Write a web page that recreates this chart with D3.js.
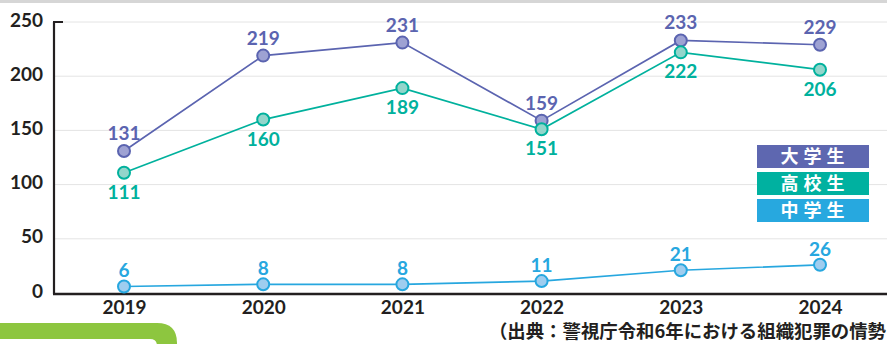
<!DOCTYPE html>
<html>
<head>
<meta charset="utf-8">
<script src="https://cdn.jsdelivr.net/npm/d3@7"></script>
<style>
  html, body { margin: 0; padding: 0; background: #fff; }
  svg { display: block; }
</style>
</head>
<body>
<svg id="chart" width="887" height="344"></svg>
<script>
// Data
const years = ["2019", "2020", "2021", "2022", "2023", "2024"];
const university = [131, 219, 231, 159, 233, 229];
const highSchool = [111, 160, 189, 151, 222, 206];
const juniorHigh = [6, 8, 8, 11, 21, 26];
const yTicks = [0, 50, 100, 150, 200, 250];
const legendLabels = ["大学生", "高校生", "中学生"];
const sourceText = "（出典：警視庁令和6年における組織犯罪の情勢";

const W = 887, H = 344;
const svg = d3.select("#chart");
const numFont = "Lato, 'Open Sans', sans-serif";
const jpFont = "'Noto Sans CJK JP', sans-serif";

const x = d3.scalePoint().domain(years).range([124, 820]);
const y = d3.scaleLinear().domain([0, 250]).range([293, 22]);

// top grey band
svg.append("rect").attr("x", 0).attr("y", 0).attr("width", W).attr("height", 3).attr("fill", "#d6d6d6");

// gridlines
svg.append("g").selectAll("line").data(yTicks.filter(d => d > 0)).join("line")
  .attr("x1", 54).attr("x2", W)
  .attr("y1", d => y(d)).attr("y2", d => y(d))
  .attr("stroke", "#e4e4e4").attr("stroke-width", 1);

// y axis
const yAxis = d3.axisLeft(y).tickValues(yTicks).tickSize(0).tickPadding(11);
const gy = svg.append("g").attr("transform", "translate(54,0)").call(yAxis);
gy.select(".domain").remove();
gy.selectAll("text")
  .attr("font-family", numFont).attr("font-weight", 700).attr("font-size", 19)
  .attr("fill", "#231f20").attr("dy", "0.22em");

// axis lines
svg.append("line").attr("x1", 54).attr("x2", 54).attr("y1", y(250)).attr("y2", 294)
  .attr("stroke", "#231f20").attr("stroke-width", 2.2);
svg.append("line").attr("x1", 53).attr("x2", 63).attr("y1", y(250)).attr("y2", y(250))
  .attr("stroke", "#231f20").attr("stroke-width", 2);
svg.append("line").attr("x1", 53).attr("x2", W).attr("y1", 294).attr("y2", 294)
  .attr("stroke", "#231f20").attr("stroke-width", 2.4);

// x axis labels
const xAxis = d3.axisBottom(x).tickSize(0).tickPadding(6);
const gx = svg.append("g").attr("transform", "translate(0,295)").call(xAxis);
gx.select(".domain").remove();
gx.selectAll("text")
  .attr("font-family", numFont).attr("font-weight", 700).attr("font-size", 19)
  .attr("fill", "#231f20");

const series = [
  { values: university, line: "#5b64b0", fill: "#9ea2d3", labelDy: [-11, -11, -11, -11, -11, -11] },
  { values: highSchool, line: "#00b19d", fill: "#93d5cb", labelDy: [26, 26, 26, 26, 26, 26] },
  { values: juniorHigh, line: "#27a7df", fill: "#9fcdef", labelDy: [-9, -9, -9, -9, -9, -9] }
];

const lineGen = d3.line().x((d, i) => x(years[i])).y(d => y(d));

series.forEach(s => {
  svg.append("path").datum(s.values)
    .attr("d", lineGen).attr("fill", "none")
    .attr("stroke", s.line).attr("stroke-width", 1.7);
});
series.forEach(s => {
  svg.append("g").selectAll("circle").data(s.values).join("circle")
    .attr("cx", (d, i) => x(years[i])).attr("cy", d => y(d)).attr("r", 6)
    .attr("fill", s.fill).attr("stroke", s.line).attr("stroke-width", 2);
});
series.forEach(s => {
  svg.append("g").selectAll("text").data(s.values).join("text")
    .attr("x", (d, i) => x(years[i]))
    .attr("y", (d, i) => y(d) + s.labelDy[i])
    .attr("text-anchor", "middle")
    .attr("font-family", numFont).attr("font-weight", 700).attr("font-size", 19)
    .attr("fill", s.line)
    .text(d => d);
});

// legend
const legendColors = ["#5e67b0", "#00b1a0", "#27a8df"];
const lg = svg.append("g");
legendLabels.forEach((t, i) => {
  const top = 145 + i * 27;
  lg.append("rect").attr("x", 757).attr("y", top).attr("width", 112).attr("height", 23)
    .attr("fill", legendColors[i]);
  lg.append("text").attr("x", 815).attr("y", top + 18)
    .attr("text-anchor", "middle")
    .attr("font-family", jpFont).attr("font-weight", 700).attr("font-size", 18)
    .attr("letter-spacing", 5).attr("fill", "#fff").text(t);
});

// source note, right-aligned to the page edge
svg.append("text").attr("x", 886).attr("y", 338)
  .attr("text-anchor", "end")
  .attr("font-family", jpFont).attr("font-weight", 700).attr("font-size", 18.4)
  .attr("fill", "#231f20").text(sourceText);

// decorative green tab, bottom-left
svg.append("path")
  .attr("d", "M0,323 H157 Q177,323 177,343 V344 H0 Z")
  .attr("fill", "#8dc63f");
svg.append("path")
  .attr("d", "M0,339 H150 Q157,339 157,346 V350 H0 Z")
  .attr("fill", "#fff");
</script>
</body>
</html>
